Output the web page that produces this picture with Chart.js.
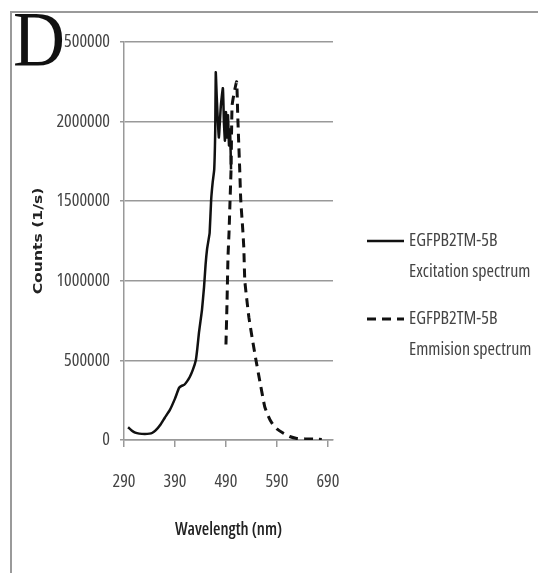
<!DOCTYPE html>
<html>
<head>
<meta charset="utf-8">
<script src="https://cdn.jsdelivr.net/npm/chart.js@4.4.0/dist/chart.umd.min.js"></script>
<style>
  body { margin: 0; background: #fff; }
  canvas { display: block; }
</style>
</head>
<body>
<canvas id="myChart" width="538" height="573"></canvas>
<script>
// excitation spectrum (solid)
var excitationWl = [298, 305, 312, 320, 331, 340, 345, 352, 361, 370, 380, 390, 398, 403, 408, 414, 419, 425, 431, 434, 437, 440, 443, 447, 450, 453, 456, 458, 461, 464, 467, 469, 470, 472, 476, 480, 484, 486, 488, 490, 492, 494, 496, 498, 500];
var excitationCounts = [80000, 60000, 46000, 40000, 38000, 40000, 44000, 60000, 94000, 140000, 189000, 260000, 327000, 340000, 346000, 370000, 396000, 440000, 503000, 580000, 673000, 745000, 818000, 960000, 1100000, 1200000, 1260000, 1300000, 1510000, 1620000, 1700000, 1950000, 2310000, 2150000, 1900000, 2100000, 2210000, 2000000, 1880000, 2060000, 1900000, 2040000, 1850000, 1950000, 1700000];

// emission spectrum (dashed)
var emissionWl = [490, 492, 494, 496, 498, 500, 502, 506, 511, 513, 515, 517, 519, 523, 525, 527, 531, 535, 542, 549, 557, 566, 573, 580, 590, 602, 615, 629, 645, 668, 678];
var emissionCounts = [600000, 850000, 1150000, 1300000, 1500000, 1700000, 2100000, 2180000, 2250000, 2050000, 1870000, 1700000, 1510000, 1320000, 1210000, 1000000, 880000, 770000, 630000, 500000, 360000, 210000, 150000, 107000, 70000, 44000, 22000, 10000, 7000, 5000, 3000];

var xTicks = [290, 390, 490, 590, 690];
var yTicks = [0, 500000, 1000000, 1500000, 2000000, 2500000];
var yTitle = 'Counts (1/s)';
var xTitle = 'Wavelength (nm)';

var family = '"Open Sans", sans-serif';

function toPoints(xs, ys) {
  return xs.map(function (x, i) { return { x: x, y: ys[i] }; });
}

// cadre gris, titre Y étiré et lettre D
var framePlugin = {
  id: 'frame',
  afterDraw: function (chart) {
    var ctx = chart.ctx;
    var area = chart.chartArea;
    ctx.save();
    ctx.strokeStyle = '#9a9a9a';
    ctx.lineWidth = 2;
    ctx.beginPath();
    ctx.moveTo(538, 12);
    ctx.lineTo(11, 12);
    ctx.lineTo(11, 573);
    ctx.stroke();

    // titre de l'axe Y
    ctx.save();
    ctx.translate(39, (area.top + area.bottom) / 2);
    ctx.rotate(-Math.PI / 2);
    ctx.scale(1.3, 1);
    ctx.fillStyle = '#222';
    ctx.font = 'bold 12px "DejaVu Sans", sans-serif';
    ctx.textAlign = 'center';
    ctx.textBaseline = 'middle';
    ctx.fillText(yTitle, 0, 0);
    ctx.restore();

    ctx.fillStyle = '#fff';
    ctx.fillRect(14, 14, 50, 54);
    ctx.fillStyle = '#111';
    ctx.font = '72px "Liberation Serif", "DejaVu Serif", serif';
    ctx.textBaseline = 'alphabetic';
    ctx.translate(13, 65);
    ctx.scale(1, 1.1);
    ctx.fillText('D', 0, 0);
    ctx.restore();
  }
};

// légende à deux lignes
var legendPlugin = {
  id: 'twoLineLegend',
  afterDraw: function (chart) {
    var ctx = chart.ctx;
    var rows = [241, 319];
    ctx.save();
    chart.data.datasets.forEach(function (ds, i) {
      var y = rows[i];
      ctx.strokeStyle = ds.borderColor;
      ctx.lineWidth = ds.borderWidth;
      ctx.setLineDash(ds.borderDash || []);
      ctx.beginPath();
      ctx.moveTo(367, y);
      ctx.lineTo(404, y);
      ctx.stroke();
      ctx.setLineDash([]);
      ctx.fillStyle = '#444';
      ctx.font = 'condensed 18px ' + family;
      ctx.textBaseline = 'middle';
      var lines = ds.label.split('\n');
      lines.forEach(function (t, j) {
        ctx.fillText(t, 409, y + j * 31);
      });
    });
    ctx.restore();
  }
};

var config = {
  type: 'line',
  data: {
    datasets: [{
      label: 'EGFPB2TM-5B\nExcitation spectrum',
      data: toPoints(excitationWl, excitationCounts),
      borderColor: '#111',
      borderWidth: 2.5,
      pointRadius: 0,
      tension: 0.15,
      fill: false
    }, {
      label: 'EGFPB2TM-5B\nEmmision spectrum',
      data: toPoints(emissionWl, emissionCounts),
      borderColor: '#111',
      borderWidth: 3,
      borderDash: [9, 6],
      pointRadius: 0,
      tension: 0.15,
      fill: false
    }]
  },
  options: {
    responsive: false,
    animation: false,
    layout: { padding: { left: 20, top: 42, right: 205, bottom: 0 } },
    plugins: {
      legend: { display: false },
      tooltip: { enabled: false }
    },
    scales: {
      x: {
        type: 'linear',
        min: 290,
        max: 700,
        afterBuildTicks: function (scale) {
          scale.ticks = xTicks.map(function (v) { return { value: v }; });
        },
        afterFit: function (scale) { scale.height = 133; },
        grid: { drawOnChartArea: false, tickLength: 7, color: '#999', lineWidth: 1.5 },
        border: { color: '#999', width: 1.5 },
        ticks: {
          autoSkip: false,
          maxRotation: 0,
          padding: 24,
          color: '#444',
          font: { family: family, size: 18, weight: 'condensed' }
        },
        title: {
          display: true,
          text: xTitle,
          color: '#222',
          font: { family: family, size: 17, weight: '600 condensed' },
          padding: { top: 0, bottom: 33 }
        }
      },
      y: {
        min: 0,
        max: 2500000,
        afterBuildTicks: function (scale) {
          scale.ticks = yTicks.map(function (v) { return { value: v }; });
        },
        afterFit: function (scale) { scale.width = 104; },
        grid: { color: '#999', lineWidth: 1.5, tickLength: 4 },
        border: { color: '#999', width: 1.5 },
        ticks: {
          padding: 10,
          color: '#444',
          font: { family: family, size: 18, weight: 'condensed' },
          callback: function (v) { return String(v); }
        },
        title: { display: false }
      }
    }
  },
  plugins: [framePlugin, legendPlugin]
};

var myChart = new Chart(document.getElementById('myChart').getContext('2d'), config);
</script>
</body>
</html>
